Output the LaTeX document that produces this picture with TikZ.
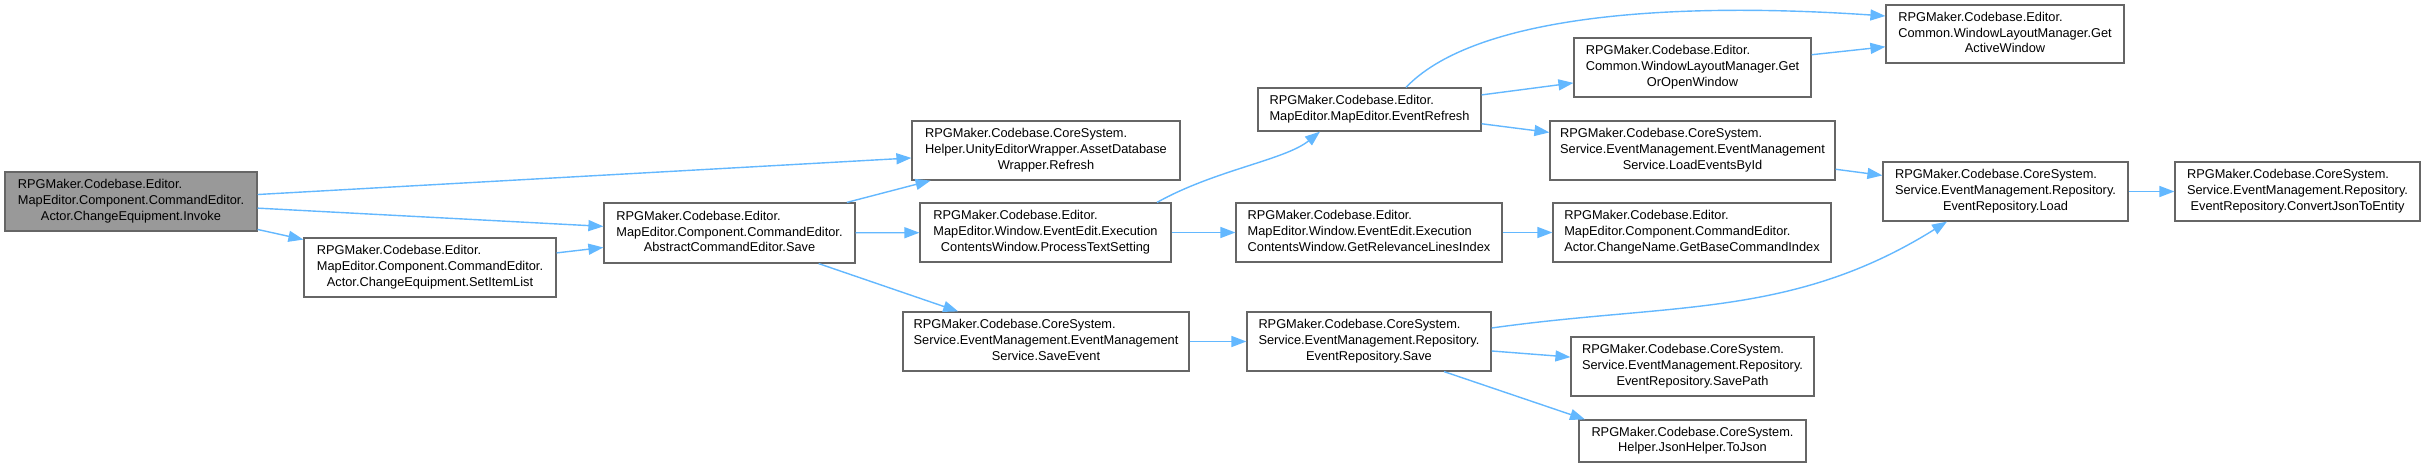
\documentclass[tikz,border=0pt]{standalone}
\usepackage{fontspec}
\setmainfont{Liberation Sans}
\usetikzlibrary{arrows.meta}
\definecolor{edgeblue}{RGB}{99,184,255}
\definecolor{boxgray}{RGB}{102,102,102}
\definecolor{rootgray}{RGB}{153,153,153}
\newcommand{\fnlines}[2]{\begin{tabular}{@{}l@{}}#1\\\multicolumn{1}{@{}c@{}}{#2}\end{tabular}}

\begin{document}
\begin{tikzpicture}[x=1pt,y=-1pt,
    fn/.style={draw=boxgray,line width=1.2pt,fill=white,inner sep=0pt,minimum height=59pt,
      font=\fontsize{12.8}{15.7}\selectfont},
    call/.style={edgeblue,line width=1.4pt,-{Triangle[length=15pt,width=11pt]}}]
  \fill[white] (0,0) rectangle (2425,468);
  \useasboundingbox (0,0) rectangle (2425,468);
  % column 1 and 2
  \node[fn,fill=rootgray,minimum width=252pt] (invoke) at (131,201.5)
    {\fnlines{RPGMaker.Codebase.Editor.\\MapEditor.Component.CommandEditor.}{Actor.ChangeEquipment.Invoke}};
  \node[fn,minimum width=252pt] (setItem) at (430,267.5)
    {\fnlines{RPGMaker.Codebase.Editor.\\MapEditor.Component.CommandEditor.}{Actor.ChangeEquipment.SetItemList}};
  \node[fn,minimum width=251pt,minimum height=60pt] (save) at (729.5,233)
    {\fnlines{RPGMaker.Codebase.Editor.\\MapEditor.Component.CommandEditor.}{AbstractCommandEditor.Save}};
  % column 3
  \node[fn,minimum width=268pt] (refresh) at (1046,150.5)
    {\fnlines{RPGMaker.Codebase.CoreSystem.\\Helper.UnityEditorWrapper.AssetDatabase}{Wrapper.Refresh}};
  \node[fn,minimum width=251pt] (procText) at (1045.5,232.5)
    {\fnlines{RPGMaker.Codebase.Editor.\\MapEditor.Window.EventEdit.Execution}{ContentsWindow.ProcessTextSetting}};
  \node[fn,minimum width=286pt] (saveEvent) at (1046,341.5)
    {\fnlines{RPGMaker.Codebase.CoreSystem.\\Service.EventManagement.EventManagement}{Service.SaveEvent}};
  % column 4
  \node[fn,minimum width=223pt,minimum height=43pt] (eventRefresh) at (1369.5,109.5)
    {\fnlines{RPGMaker.Codebase.Editor.}{MapEditor.MapEditor.EventRefresh}};
  \node[fn,minimum width=266pt] (relLines) at (1369,232.5)
    {\fnlines{RPGMaker.Codebase.Editor.\\MapEditor.Window.EventEdit.Execution}{ContentsWindow.GetRelevanceLinesIndex}};
  \node[fn,minimum width=244pt] (repoSave) at (1369,341.5)
    {\fnlines{RPGMaker.Codebase.CoreSystem.\\Service.EventManagement.Repository.}{EventRepository.Save}};
  % column 5
  \node[fn,minimum width=237pt] (getOrOpen) at (1692.5,67.5)
    {\fnlines{RPGMaker.Codebase.Editor.\\Common.WindowLayoutManager.Get}{OrOpenWindow}};
  \node[fn,minimum width=285pt] (loadEvents) at (1692.5,150.5)
    {\fnlines{RPGMaker.Codebase.CoreSystem.\\Service.EventManagement.EventManagement}{Service.LoadEventsById}};
  \node[fn,minimum width=278pt] (baseCmd) at (1692,232.5)
    {\fnlines{RPGMaker.Codebase.Editor.\\MapEditor.Component.CommandEditor.}{Actor.ChangeName.GetBaseCommandIndex}};
  \node[fn,minimum width=243pt] (savePath) at (1692.5,366.5)
    {\fnlines{RPGMaker.Codebase.CoreSystem.\\Service.EventManagement.Repository.}{EventRepository.SavePath}};
  \node[fn,minimum width=227pt,minimum height=42pt] (toJson) at (1692.5,441)
    {\fnlines{RPGMaker.Codebase.CoreSystem.}{Helper.JsonHelper.ToJson}};
  % column 6 and 7
  \node[fn,minimum width=238pt,minimum height=58pt] (activeWin) at (2005,34)
    {\fnlines{RPGMaker.Codebase.Editor.\\Common.WindowLayoutManager.Get}{ActiveWindow}};
  \node[fn,minimum width=245pt] (load) at (2005.5,191.5)
    {\fnlines{RPGMaker.Codebase.CoreSystem.\\Service.EventManagement.Repository.}{EventRepository.Load}};
  \node[fn,minimum width=245pt] (convert) at (2297.5,191.5)
    {\fnlines{RPGMaker.Codebase.CoreSystem.\\Service.EventManagement.Repository.}{EventRepository.ConvertJsonToEntity}};
  % calls
  \draw[call] (invoke) -- (refresh);
  \draw[call] (invoke) -- (save);
  \draw[call] (invoke) -- (setItem);
  \draw[call] (setItem) -- (save);
  \draw[call] (save) -- (refresh);
  \draw[call] (save) -- (procText);
  \draw[call] (save) -- (saveEvent);
  \draw[call] ([xshift=111.5pt]procText.north) .. controls (1215,170) and (1285,160) .. ([xshift=-49.5pt]eventRefresh.south);
  \draw[call] (procText) -- (relLines);
  \draw[call] (relLines) -- (baseCmd);
  \draw[call] ([xshift=36.5pt]eventRefresh.north) .. controls (1470,20) and (1650,0) .. ([yshift=18pt]activeWin.west);
  \draw[call] (eventRefresh) -- (getOrOpen);
  \draw[call] (eventRefresh) -- (loadEvents);
  \draw[call] (getOrOpen) -- (activeWin);
  \draw[call] (loadEvents) -- (load);
  \draw[call] (saveEvent) -- (repoSave);
  \draw[call] ([yshift=13.5pt]repoSave.east) to[out=8,in=-148] ([xshift=-58.5pt]load.south);
  \draw[call] (repoSave) -- (savePath);
  \draw[call] ([xshift=75pt]repoSave.south) -- ([xshift=-107.5pt]toJson.north);
  \draw[call] (load) -- (convert);
\end{tikzpicture}
\end{document}
